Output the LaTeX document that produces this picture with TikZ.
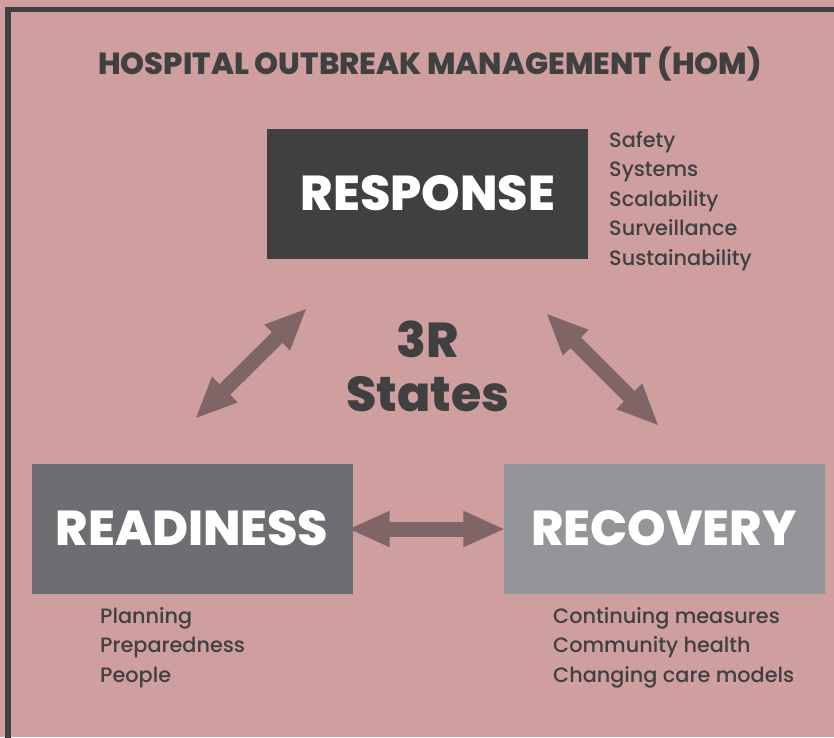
\documentclass[tikz,border=0pt]{standalone}
\usepackage{fontspec}
\setmainfont{Poppins Medium}
\newfontfamily\heavy{Poppins ExtraBold}
\usetikzlibrary{arrows.meta}

\definecolor{bgpink}{HTML}{CF9E9E}
\definecolor{ink}{HTML}{404040}
\definecolor{midgray}{HTML}{6D6E71}
\definecolor{lightgray}{HTML}{939598}
\definecolor{arrowbrown}{HTML}{7F6565}

\tikzset{
  statebox/.style={fill=#1, draw=none, minimum width=321pt, minimum height=130pt,
    inner sep=0pt},
  statelabel/.style={anchor=base, inner sep=0pt, text=#1,
    font=\heavy\fontsize{49}{54}\selectfont},
  itemlist/.style={anchor=base west, inner sep=0pt, text=ink, align=left,
    font=\fontsize{20.8}{29.4}\selectfont},
  twoway/.style={draw=arrowbrown, line width=15pt,
    {Triangle[width=33pt,length=42pt]}-{Triangle[width=33pt,length=42pt]}}
}

\begin{document}
\begin{tikzpicture}[x=1pt, y=-1pt]
  % canvas and frame
  \fill[bgpink] (0,0) rectangle (834,737);
  \useasboundingbox (0,0) rectangle (834,737);
  \draw[ink, line width=5.5pt] (8,9.5) rectangle (860,760);

  % title
  \node[anchor=base, inner sep=0pt, text=ink, font=\heavy\fontsize{30.5}{34}\selectfont]
    (title) at (430,74) {HOSPITAL OUTBREAK MANAGEMENT (HOM)};

  % the three states
  \node[statebox=ink] (response) at (427.5,194) {};
  \node[statelabel=white] (responseText) at (428,210) {RESPONSE};
  \node[statebox=midgray] (readiness) at (192,529) {};
  \node[statelabel=white] (readinessText) at (192,545) {READINESS};
  \node[statebox=lightgray] (recovery) at (664,529) {};
  \node[statelabel=white] (recoveryText) at (664,545) {RECOVERY};

  % centre label
  \node[statelabel=ink] (threeR) at (428,357) {3R};
  \node[statelabel=ink] (states) at (428,411) {States};

  % attribute lists (anchored on the baseline of their last line)
  \node[itemlist] (responseItems) at (609,265)
    {Safety\\Systems\\Scalability\\Surveillance\\Sustainability};
  \node[itemlist] (readinessItems) at (100,682)
    {Planning\\Preparedness\\People};
  \node[itemlist] (recoveryItems) at (553,682)
    {Continuing measures\\Community health\\Changing care models};

  % connectors between the states
  \coordinate (rdTop) at (307,308);
  \coordinate (rdBot) at (195,419);
  \coordinate (rcTop) at (546,313);
  \coordinate (rcBot) at (659,426);
  \draw[twoway] (rdBot) -- (rdTop);
  \draw[twoway] (rcTop) -- (rcBot);
  \draw[twoway] ([xshift=-5pt]readiness.east) -- ([xshift=2pt]recovery.west);
\end{tikzpicture}
\end{document}
